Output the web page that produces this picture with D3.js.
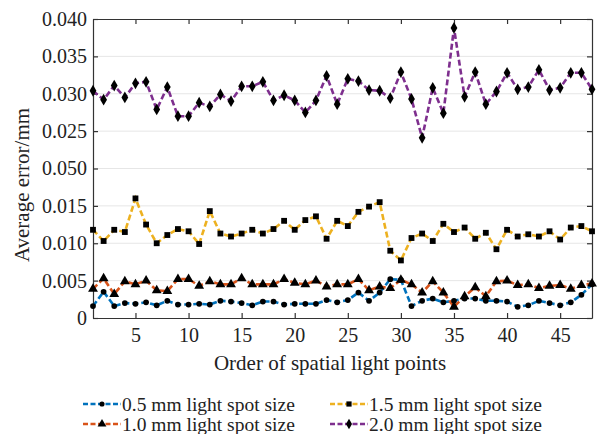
<!DOCTYPE html>
<html><head><meta charset="utf-8">
<script src="https://cdn.jsdelivr.net/npm/d3@7"></script>
<style>body{margin:0;background:#fff}svg{display:block}</style>
</head><body>
<svg id="c" width="598" height="434"></svg>
<script>
const xValues = d3.range(1, 49);
const s05 = [0.0016,0.0035,0.0016,0.0020,0.0019,0.0021,0.0017,0.0023,0.0018,0.0018,0.0019,0.0018,0.0023,0.0022,0.0020,0.0017,0.0022,0.0022,0.0018,0.0019,0.0019,0.0019,0.0024,0.0021,0.0024,0.0034,0.0023,0.0034,0.0052,0.0051,0.0016,0.0023,0.0026,0.0021,0.0023,0.0026,0.0026,0.0023,0.0023,0.0022,0.0015,0.0017,0.0023,0.0020,0.0017,0.0021,0.0031,0.0045];
const s10 = [0.0039,0.0053,0.0032,0.0049,0.0045,0.0050,0.0037,0.0036,0.0052,0.0052,0.0043,0.0049,0.0045,0.0045,0.0053,0.0045,0.0045,0.0045,0.0052,0.0047,0.0045,0.0050,0.0042,0.0045,0.0045,0.0052,0.0037,0.0042,0.0040,0.0051,0.0045,0.0034,0.0049,0.0034,0.0015,0.0029,0.0041,0.0029,0.0049,0.0050,0.0044,0.0045,0.0040,0.0043,0.0044,0.0039,0.0044,0.0046];
const s15 = [0.0118,0.0103,0.0118,0.0115,0.0160,0.0125,0.0100,0.0111,0.0119,0.0116,0.0099,0.0143,0.0113,0.0109,0.0113,0.0118,0.0113,0.0119,0.0130,0.0118,0.0131,0.0136,0.0106,0.0130,0.0123,0.0142,0.0149,0.0155,0.0090,0.0077,0.0107,0.0113,0.0103,0.0126,0.0115,0.0121,0.0106,0.0114,0.0092,0.0118,0.0109,0.0112,0.0109,0.0116,0.0105,0.0121,0.0123,0.0116];
const s20 = [0.0304,0.0292,0.0311,0.0295,0.0314,0.0316,0.0279,0.0309,0.0270,0.0270,0.0288,0.0283,0.0299,0.0290,0.0310,0.0310,0.0316,0.0291,0.0298,0.0291,0.0275,0.0291,0.0324,0.0286,0.0320,0.0317,0.0305,0.0304,0.0294,0.0329,0.0293,0.0241,0.0308,0.0274,0.0388,0.0296,0.0329,0.0286,0.0303,0.0328,0.0306,0.0309,0.0332,0.0305,0.0308,0.0328,0.0328,0.0306];
const seriesNames = ["0.5 mm light spot size","1.0 mm light spot size","1.5 mm light spot size","2.0 mm light spot size"];
const yTickValues = [0,0.005,0.010,0.015,0.020,0.025,0.030,0.035,0.040];
const yTickLabels = ["0","0.005","0.010","0.015","0.050","0.025","0.030","0.035","0.040"];
const xTickValues = [5,10,15,20,25,30,35,40,45];
const xLabel = "Order of spatial light points";
const yLabel = "Average error/mm";

const series = [
  {name: seriesNames[0], values: s05, color: "#0072BD", marker: "circle"},
  {name: seriesNames[1], values: s10, color: "#D95319", marker: "triangle"},
  {name: seriesNames[2], values: s15, color: "#EDB120", marker: "square"},
  {name: seriesNames[3], values: s20, color: "#7E2F8E", marker: "diamond"}
];

const FONT = "Liberation Serif";
const svg = d3.select("#c");
const L = 93, R = 592, T = 19, B = 318;
const x = d3.scaleLinear().domain([1, 48]).range([L, R]);
const y = d3.scaleLinear().domain([0, 0.04]).range([B, T]);

svg.append("g").selectAll("line").data(yTickValues.slice(1, -1)).join("line")
  .attr("x1", L).attr("x2", R).attr("y1", d => y(d)).attr("y2", d => y(d))
  .attr("stroke", "#e6e6e6").attr("stroke-width", 1);

const fmtY = d => yTickLabels[yTickValues.indexOf(d)];
const gy = svg.append("g").attr("transform", `translate(${L},0)`)
  .call(d3.axisLeft(y).tickValues(yTickValues).tickFormat(fmtY).tickSizeInner(-5).tickSizeOuter(0).tickPadding(6));
const gyr = svg.append("g").attr("transform", `translate(${R},0)`)
  .call(d3.axisRight(y).tickValues(yTickValues).tickFormat("").tickSizeInner(-5).tickSizeOuter(0));
const gx = svg.append("g").attr("transform", `translate(0,${B})`)
  .call(d3.axisBottom(x).tickValues(xTickValues).tickFormat(d3.format("d")).tickSizeInner(-5).tickSizeOuter(0).tickPadding(10));
const gxt = svg.append("g").attr("transform", `translate(0,${T})`)
  .call(d3.axisTop(x).tickValues(xTickValues).tickFormat("").tickSizeInner(-5).tickSizeOuter(0));
[gy, gyr, gx, gxt].forEach(g => {
  g.attr("font-family", FONT).attr("font-size", 20);
  g.select(".domain").attr("stroke", "#333").attr("stroke-width", 1.2);
  g.selectAll(".tick line").attr("stroke", "#333").attr("stroke-width", 1.2);
  g.selectAll("text").attr("fill", "#222");
});

const line = d3.line().x((d, i) => x(xValues[i])).y(d => y(d));
const symType = {circle: d3.symbolCircle, triangle: d3.symbolTriangle, square: d3.symbolSquare, diamond: d3.symbolDiamond};
const symSize = {circle: 26, triangle: 42, square: 34, diamond: 40};

series.forEach(s => {
  svg.append("path").datum(s.values).attr("d", line)
    .attr("fill", "none").attr("stroke", s.color).attr("stroke-width", 2.6)
    .attr("stroke-dasharray", "6,3");
});
series.forEach(s => {
  svg.append("g").selectAll("path").data(s.values).join("path")
    .attr("transform", (d, i) => `translate(${x(xValues[i])},${y(d)})`)
    .attr("d", d3.symbol().type(symType[s.marker]).size(symSize[s.marker]))
    .attr("fill", "#000");
});

svg.append("text").attr("x", 330).attr("y", 370).attr("text-anchor", "middle")
  .attr("font-family", FONT).attr("font-size", 21).attr("fill", "#222").text(xLabel);
svg.append("text").attr("transform", `translate(29,185) rotate(-90)`).attr("text-anchor", "middle")
  .attr("font-family", FONT).attr("font-size", 21).attr("fill", "#222").text(yLabel);

const legendPos = [[83, 404], [83, 424], [330, 404], [330, 424]];
series.forEach((s, i) => {
  const [lx, ly] = legendPos[i];
  const g = svg.append("g").attr("transform", `translate(${lx},${ly})`);
  g.append("line").attr("x1", 0).attr("x2", 38).attr("y1", 0).attr("y2", 0)
    .attr("stroke", s.color).attr("stroke-width", 2.6).attr("stroke-dasharray", "5,2.5");
  g.append("path").attr("transform", "translate(19,0)")
    .attr("d", d3.symbol().type(symType[s.marker]).size(symSize[s.marker] * 0.8)).attr("fill", "#000");
  g.append("text").attr("x", 39).attr("y", 6.5).attr("font-family", FONT).attr("font-size", 19.5)
    .attr("fill", "#222").text(s.name);
});
</script>
</body></html>
